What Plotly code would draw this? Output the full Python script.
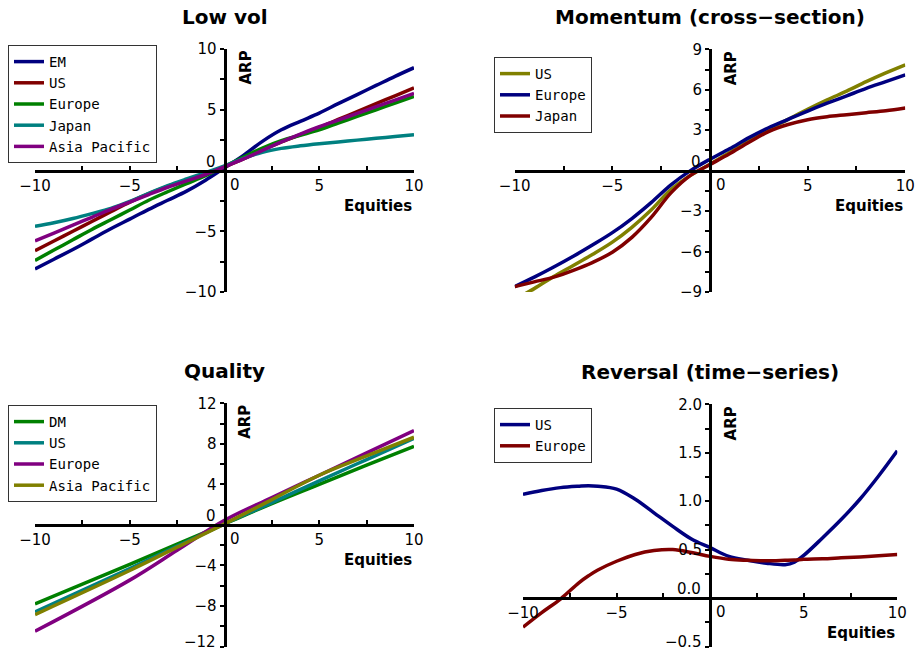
import plotly.graph_objects as go

W, H = 917, 651

# ---------------- data ----------------
# Low vol
lv_x = [-10, -9, -8, -7, -6, -5, -4, -3, -2, -1, 0, 1, 2, 3, 4, 5, 6, 7, 8, 9, 10]
lv_em = [-8.1, -7.3, -6.5, -5.65, -4.8, -4.0, -3.2, -2.45, -1.7, -0.8, 0.22, 1.25, 2.4,
         3.35, 4.05, 4.72, 5.5, 6.25, 7.0, 7.75, 8.46]
lv_us = [-6.6, -5.8, -5.0, -4.2, -3.4, -2.6, -1.9, -1.3, -0.8, -0.3, 0.3, 0.95, 1.7,
         2.35, 2.95, 3.55, 4.2, 4.85, 5.5, 6.15, 6.8]
lv_europe = [-7.4, -6.55, -5.7, -4.85, -4.05, -3.25, -2.45, -1.75, -1.08, -0.42, 0.35, 1.1, 1.85,
             2.45, 2.9, 3.35, 3.9, 4.45, 5.0, 5.55, 6.1]
lv_japan = [-4.6, -4.3, -3.95, -3.55, -3.12, -2.55, -1.88, -1.25, -0.7, -0.18, 0.38, 1.0, 1.5,
            1.82, 2.03, 2.2, 2.35, 2.5, 2.65, 2.8, 2.95]
lv_asia = [-5.8, -5.15, -4.5, -3.85, -3.2, -2.6, -1.98, -1.38, -0.85, -0.33, 0.3, 0.95, 1.65,
           2.35, 3.0, 3.6, 4.15, 4.7, 5.25, 5.8, 6.35]

# Momentum (cross-section)
mo_x = [-10, -9, -8, -7, -6, -5, -4, -3, -2, -1, 0, 1, 2, 3, 4, 5, 6, 7, 8, 9, 10]
mo_us = [-9.55, -8.75, -7.85, -7.03, -6.2, -5.3, -4.2, -2.9, -1.4, -0.35, 0.48, 1.35, 2.2,
         3.05, 3.8, 4.55, 5.25, 5.9, 6.6, 7.25, 7.85]
mo_europe = [-8.6, -7.9, -7.15, -6.35, -5.5, -4.6, -3.55, -2.35, -1.05, 0.0, 0.85, 1.62, 2.45,
             3.18, 3.8, 4.42, 5.0, 5.55, 6.1, 6.6, 7.1]
mo_japan = [-8.6, -8.25, -7.9, -7.4, -6.8, -6.05, -4.95, -3.45, -1.65, -0.35, 0.45, 1.25, 2.1,
            2.9, 3.42, 3.78, 4.0, 4.15, 4.3, 4.45, 4.65]

# Quality
qu_x = [-10, -5, -2.5, 0, 2.5, 5, 7.5, 10]
qu_dm = [-7.8, -3.9, -1.9, 0.1, 2.1, 4.0, 5.9, 7.75]
qu_us = [-8.6, -4.3, -2.1, 0.1, 2.2, 4.35, 6.45, 8.55]
qu_europe = [-10.5, -5.45, -2.5, 0.45, 2.7, 4.9, 7.1, 9.3]
qu_asia = [-8.85, -4.5, -2.2, 0.1, 2.5, 4.9, 6.8, 8.65]

# Reversal (time-series)
re_x = [-10, -9, -8, -7, -6.5, -6, -5, -4, -3, -2, -1, 0, 1, 2, 3, 4, 4.5, 5, 6, 7, 8, 9, 10]
re_us = [1.07, 1.11, 1.14, 1.155, 1.16, 1.155, 1.125, 1.02, 0.88, 0.74, 0.61, 0.52, 0.43, 0.39,
         0.36, 0.345, 0.37, 0.44, 0.62, 0.81, 1.02, 1.26, 1.52]
re_europe = [-0.30, -0.15, -0.01, 0.16, 0.23, 0.29, 0.38, 0.45, 0.49, 0.50, 0.47, 0.43, 0.40,
             0.39, 0.385, 0.39, 0.393, 0.40, 0.405, 0.415, 0.425, 0.437, 0.45]

# tick labels (the lowest label of the bottom panels is placed separately)
x_tickvals = [-10, -7.5, -5, -2.5, 2.5, 5, 7.5, 10]
x_ticktext = ["\u221210", "", "\u22125", "", "", "5", "", "10"]
lv_yvals = [-10, -7.5, -5, -2.5, 2.5, 5, 7.5, 10]
lv_ytext = ["\u221210", "", "\u22125", "", "", "5", "", "10"]
mo_yvals = [-9, -7.5, -6, -4.5, -3, -1.5, 1.5, 3, 4.5, 6, 7.5, 9]
mo_ytext = ["\u22129", "", "\u22126", "", "\u22123", "", "", "3", "", "6", "", "9"]
qu_yvals = [-12, -10, -8, -6, -4, -2, 2, 4, 6, 8, 10, 12]
qu_ytext = ["", "", "\u22128", "", "\u22124", "", "", "4", "", "8", "", "12"]
re_yvals = [-0.5, -0.25, 0.25, 0.5, 0.75, 1.0, 1.25, 1.5, 1.75, 2.0]
re_ytext = ["", "", "", "0.5", "", "1.0", "", "1.5", "", "2.0"]

NAVY = "#00007f"
MAROON = "#800000"
GREEN = "#008000"
TEAL = "#008080"
PURPLE = "#800080"
OLIVE = "#808000"

FONT = "DejaVu Sans"
LEGEND_FONT = "DejaVu Sans Mono"

panels = [
    dict(title="Low vol", xr=[-10, 10], yr=[-10, 10], px=[35, 414], py=[49, 292],
         yvals=lv_yvals, ytext=lv_ytext, y0="0", ybottom=None, legend_px=(8, 45),
         series=[("EM", lv_x, lv_em, NAVY), ("US", lv_x, lv_us, MAROON),
                 ("Europe", lv_x, lv_europe, GREEN), ("Japan", lv_x, lv_japan, TEAL),
                 ("Asia Pacific", lv_x, lv_asia, PURPLE)]),
    dict(title="Momentum (cross\u2212section)", xr=[-10, 10], yr=[-9, 9], px=[514.7, 905.3], py=[49.3, 292],
         yvals=mo_yvals, ytext=mo_ytext, y0="0", ybottom=None, legend_px=(494, 57),
         series=[("US", mo_x, mo_us, OLIVE), ("Europe", mo_x, mo_europe, NAVY),
                 ("Japan", mo_x, mo_japan, MAROON)]),
    dict(title="Quality", xr=[-10, 10], yr=[-12, 12], px=[35, 414], py=[403.3, 646.5],
         yvals=qu_yvals, ytext=qu_ytext, y0="0", ybottom=(-12, "\u221212"), legend_px=(8, 405),
         series=[("DM", qu_x, qu_dm, GREEN), ("US", qu_x, qu_us, TEAL),
                 ("Europe", qu_x, qu_europe, PURPLE), ("Asia Pacific", qu_x, qu_asia, OLIVE)]),
    dict(title="Reversal (time\u2212series)", xr=[-10, 10], yr=[-0.5, 2.0], px=[523, 897.3], py=[404.3, 646.5],
         yvals=re_yvals, ytext=re_ytext, y0="0.0", ybottom=(-0.5, "\u22120.5"), legend_px=(494, 408),
         series=[("US", re_x, re_us, NAVY), ("Europe", re_x, re_europe, MAROON)]),
]

fig = go.Figure()
annotations = []
layout = dict(
    width=W, height=H, template="none",
    margin=dict(l=0, r=0, t=0, b=0),
    paper_bgcolor="white", plot_bgcolor="white",
    font=dict(family=FONT, size=15, color="black"),
)

for i, p in enumerate(panels, start=1):
    xa = "xaxis" if i == 1 else f"xaxis{i}"
    ya = "yaxis" if i == 1 else f"yaxis{i}"
    xr_ = "x" if i == 1 else f"x{i}"
    yr_ = "y" if i == 1 else f"y{i}"
    lg = "legend" if i == 1 else f"legend{i}"
    xdom = [p["px"][0] / W, p["px"][1] / W]
    ydom = [1 - p["py"][1] / H, 1 - p["py"][0] / H]
    fx = (0 - p["xr"][0]) / (p["xr"][1] - p["xr"][0])
    fy = (0 - p["yr"][0]) / (p["yr"][1] - p["yr"][0])
    xpos = xdom[0] + fx * (xdom[1] - xdom[0])
    ypos = ydom[0] + fy * (ydom[1] - ydom[0])

    for name, xs, ys, col in p["series"]:
        fig.add_trace(go.Scatter(
            x=xs, y=ys, name=name, mode="lines",
            line=dict(color=col, width=3.5, shape="spline", smoothing=1.0),
            xaxis=xr_, yaxis=yr_, legend=lg, showlegend=True,
        ))

    layout[xa] = dict(
        domain=xdom, range=p["xr"], anchor="free", position=ypos, side="bottom",
        showline=True, linecolor="black", linewidth=3, showgrid=False, zeroline=False,
        ticks="inside", ticklen=4, tickwidth=1.5, tickcolor="black",
        tickvals=x_tickvals, ticktext=x_ticktext, ticklabeloverflow="allow",
        tickfont=dict(family=FONT, size=15, color="black"), automargin=False,
        fixedrange=True,
    )
    layout[ya] = dict(
        domain=ydom, range=p["yr"], anchor="free", position=xpos, side="left",
        showline=True, linecolor="black", linewidth=3, showgrid=False, zeroline=False,
        ticks="outside", ticklen=4, tickwidth=1.5, tickcolor="black",
        tickvals=p["yvals"], ticktext=p["ytext"], ticklabeloverflow="allow",
        tickfont=dict(family=FONT, size=15, color="black"), automargin=False,
        fixedrange=True,
    )
    lx, ly = p["legend_px"]
    layout[lg] = dict(
        x=lx / W, y=1 - ly / H, xanchor="left", yanchor="top",
        bordercolor="#333333", borderwidth=1, bgcolor="white",
        font=dict(family=LEGEND_FONT, size=14, color="black"),
        tracegroupgap=0, itemwidth=30,
    )
    annotations.append(dict(
        text=f"<b>{p['title']}</b>", xref=f"{xr_} domain", x=0.5, xanchor="center",
        yref="paper", y=1 - (p["py"][0] - 32) / H, yanchor="middle", showarrow=False,
        font=dict(family=FONT, size=20, color="black"),
    ))
    annotations.append(dict(
        text="<b>Equities</b>", xref=f"{xr_} domain", x=1, xanchor="right",
        yref=yr_, y=0, yshift=-35, yanchor="middle", showarrow=False,
        font=dict(family=FONT, size=15, color="black"),
    ))
    annotations.append(dict(
        text="<b>ARP</b>", xref=xr_, x=0, xshift=21, xanchor="center",
        yref=f"{yr_} domain", y=1, yanchor="top", textangle=-90, showarrow=False,
        font=dict(family=FONT, size=15, color="black"),
    ))
    annotations.append(dict(
        text="0", xref=xr_, x=0, xshift=10.5, xanchor="center",
        yref=yr_, y=0, yshift=-14, yanchor="middle", showarrow=False,
        font=dict(family=FONT, size=15, color="black"),
    ))
    annotations.append(dict(
        text=p["y0"], xref=xr_, x=0, xshift=-7, xanchor="right",
        yref=yr_, y=0, yshift=9, yanchor="middle", showarrow=False,
        font=dict(family=FONT, size=15, color="black"),
    ))
    if p["ybottom"] is not None:
        yb, tb = p["ybottom"]
        annotations.append(dict(
            text=tb, xref=xr_, x=0, xshift=-7, xanchor="right",
            yref=yr_, y=yb, yshift=5, yanchor="middle", showarrow=False,
            font=dict(family=FONT, size=15, color="black"),
        ))

layout["annotations"] = annotations
fig.update_layout(**layout)
fig.write_html("out.html", config={"displayModeBar": False},
               post_script="document.body.style.margin='0';")
